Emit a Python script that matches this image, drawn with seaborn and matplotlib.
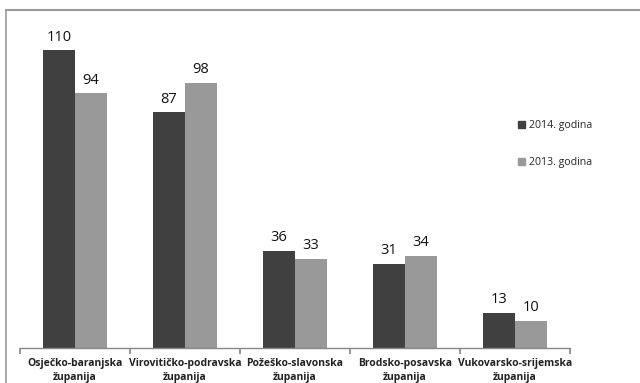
import matplotlib
matplotlib.use("Agg")
import matplotlib.pyplot as plt
import seaborn as sns
import pandas as pd
from matplotlib.lines import Line2D

categories = ["Osječko-baranjska\nžupanija", "Virovitičko-podravska\nžupanija",
              "Požeško-slavonska\nžupanija", "Brodsko-posavska\nžupanija",
              "Vukovarsko-srijemska\nžupanija"]
series_names = ["2014. godina", "2013. godina"]
values_2014 = [110, 87, 36, 31, 13]
values_2013 = [94, 98, 33, 34, 10]
colors = ["#404040", "#999999"]

df = pd.DataFrame({
    "cat": categories * 2,
    "series": [series_names[0]] * 5 + [series_names[1]] * 5,
    "val": values_2014 + values_2013,
})

sns.set_theme(style="white")
plt.rcParams["font.family"] = ["Open Sans", "DejaVu Sans"]

fig = plt.figure(figsize=(6.4, 3.83), dpi=100)
ax = fig.add_axes([20/640, 1-348/383, 550/640, (348-23)/383])
sns.barplot(data=df, x="cat", y="val", hue="series", palette=colors,
            width=0.58, saturation=1, ax=ax, legend=False, linewidth=0)
ax.set_ylim(0, 120)
ax.set_xlim(-0.5, 4.5)
ax.set_xlabel("")
ax.set_ylabel("")
ax.set_yticks([])
for s in ["top", "right", "left"]:
    ax.spines[s].set_visible(False)
ax.spines["bottom"].set_color("#888888")
ax.spines["bottom"].set_linewidth(1)
ax.set_xticks([-0.5, 0.5, 1.5, 2.5, 3.5, 4.5], minor=False)
ax.set_xticklabels([])
ax.tick_params(axis="x", which="major", length=4, color="#888888", direction="out", bottom=True)
ax.set_xticks(range(5), minor=True)
ax.set_xticklabels(categories, minor=True, fontsize=7.5, fontweight="bold",
                   color="#222222", linespacing=1.45)
ax.tick_params(axis="x", which="minor", length=0, pad=7)

for cont in ax.containers:
    ax.bar_label(cont, fmt="%d", padding=4, fontsize=10.5, color="#111111")

handles = [plt.Rectangle((0, 0), 1, 1, color=c) for c in colors]
fig.legend(handles, series_names, loc="upper left", bbox_to_anchor=(508/640, 1-111/383),
           frameon=False, fontsize=7.6, handlelength=0.7, handleheight=0.7,
           handletextpad=0.4, labelspacing=2.45)

fig.add_artist(Line2D([6/640, 1], [1-10/383, 1-10/383], color="#999999", lw=1.5))
fig.add_artist(Line2D([6/640, 6/640], [0, 1-10/383], color="#999999", lw=1.2))

fig.savefig("out.png", dpi=100)
